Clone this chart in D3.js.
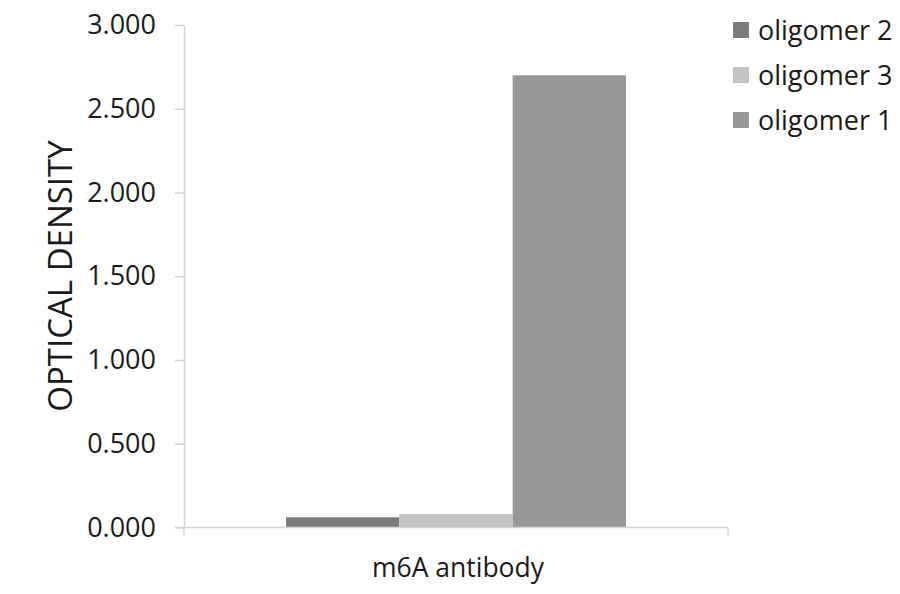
<!DOCTYPE html>
<html><head><meta charset="utf-8">
<script src="https://cdn.jsdelivr.net/npm/d3@7"></script>
<style>body{margin:0;background:#fff}svg{display:block}</style>
</head><body>
<svg id="c" width="900" height="594"></svg>
<script>
const categories = ["m6A antibody"];
const seriesNames = ["oligomer 2", "oligomer 3", "oligomer 1"];
const seriesValues = [[0.061], [0.080], [2.700]];
const seriesColors = ["#7b7b7b", "#c4c4c4", "#979797"];
const yTicks = [0, 0.5, 1.0, 1.5, 2.0, 2.5, 3.0];

const svg = d3.select("#c");
const font = "'Open Sans', 'Noto Sans', sans-serif";
const axisColor = "#d4d4d4";
const textColor = "#1a1a1a";

const x0 = d3.scaleBand().domain(categories).range([184, 728]);
const x1 = d3.scaleBand().domain(seriesNames).range([0, x0.bandwidth()]).paddingInner(0).paddingOuter(0.9);
const y = d3.scaleLinear().domain([0, 3]).range([527.5, 25]);

// y axis
const yAxis = d3.axisLeft(y).tickValues(yTicks).tickFormat(d3.format(".3f")).tickSize(9).tickSizeOuter(0).tickPadding(19);
const gy = svg.append("g").attr("transform", "translate(184,0)").call(yAxis);
gy.select(".domain").attr("stroke", axisColor).attr("stroke-width", 1.5);
gy.selectAll(".tick line").attr("stroke", axisColor).attr("stroke-width", 1.5);
gy.selectAll(".tick text").attr("font-family", font).attr("font-size", 27).attr("fill", textColor);

// bars
categories.forEach((c, ci) => {
  seriesNames.forEach((s, si) => {
    const v = seriesValues[si][ci];
    svg.append("rect")
      .attr("x", x0(c) + x1(s))
      .attr("y", y(v))
      .attr("width", x1.bandwidth())
      .attr("height", y(0) - y(v))
      .attr("fill", seriesColors[si]);
  });
});

// x axis
const r = x0.range();
svg.append("line").attr("x1", 175).attr("x2", r[1]).attr("y1", y(0)).attr("y2", y(0))
  .attr("stroke", axisColor).attr("stroke-width", 1.5);
[r[0], r[1]].forEach(xx => {
  svg.append("line").attr("x1", xx).attr("x2", xx).attr("y1", y(0)).attr("y2", y(0) + 8)
    .attr("stroke", axisColor).attr("stroke-width", 1.5);
});
categories.forEach(c => {
  svg.append("text").attr("x", x0(c) + x0.bandwidth() / 2 + 2).attr("y", 577)
    .attr("text-anchor", "middle").attr("font-family", font).attr("font-size", 26.5).attr("fill", textColor).text(c);
});

// y title
svg.append("text").attr("transform", "translate(72,276) rotate(-90)")
  .attr("text-anchor", "middle").attr("font-family", font).attr("font-size", 33).attr("fill", textColor)
  .text("OPTICAL DENSITY");

// legend
seriesNames.forEach((s, i) => {
  const g = svg.append("g").attr("transform", `translate(733,${22 + i * 45})`);
  g.append("rect").attr("width", 16).attr("height", 16).attr("fill", seriesColors[i]);
  g.append("text").attr("x", 25).attr("y", 18).attr("font-family", font).attr("font-size", 27).attr("fill", textColor).text(s);
});
</script>
</body></html>
